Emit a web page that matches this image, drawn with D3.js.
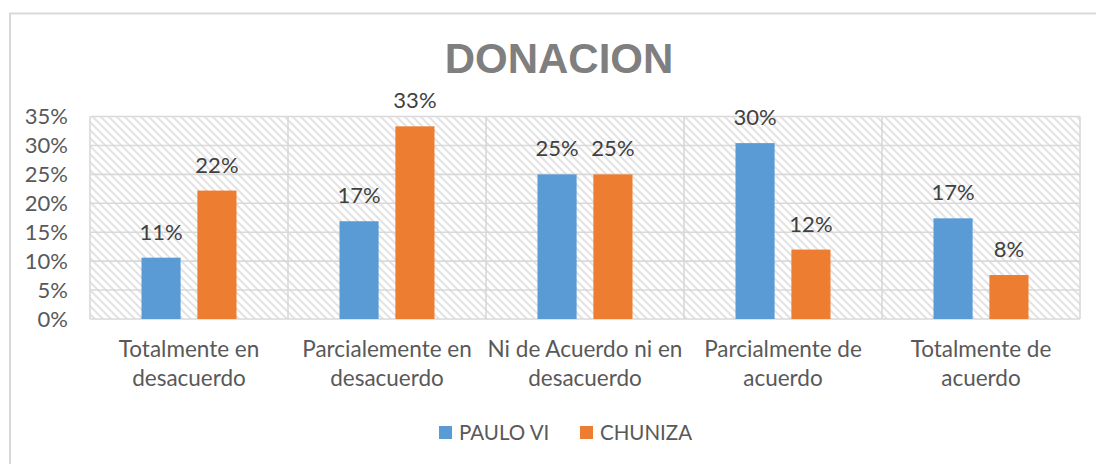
<!DOCTYPE html>
<html>
  <head>
    <script src="https://d3js.org/d3.v7.min.js"></script>
    <style>
      body { margin: 0; background: #fff; }
    </style>
  </head>
  <body>
    <script>

    // data
    var categories = [
      ["Totalmente en", "desacuerdo"],
      ["Parcialemente en", "desacuerdo"],
      ["Ni de Acuerdo ni en", "desacuerdo"],
      ["Parcialmente de", "acuerdo"],
      ["Totalmente de", "acuerdo"]
    ];
    var seriesNames = ["PAULO VI", "CHUNIZA"];
    var pauloVI = [0.106, 0.169, 0.25, 0.304, 0.174];
    var chuniza = [0.222, 0.333, 0.25, 0.12, 0.076];
    var yTicks = [0, 0.05, 0.10, 0.15, 0.20, 0.25, 0.30, 0.35];
    var colors = ["#5B9BD5", "#ED7D31"];

    var w = 1096, h = 464;
    var plotLeft = 90, plotRight = 1080, plotTop = 116.5, plotBottom = 319;
    var font = "Lato, 'Open Sans', sans-serif";
    var textColor = "#595959";
    var gridColor = "#d9d9d9";

    var svg = d3.select("body")
      .append("svg")
      .attr("width", w)
      .attr("height", h);

    // hatch pattern for the plot area
    var pat = svg.append("defs").append("pattern")
      .attr("id", "hatch")
      .attr("patternUnits", "userSpaceOnUse")
      .attr("width", 8)
      .attr("height", 8);
    pat.append("path")
      .attr("d", "M-2,-2 L10,10 M-2,6 L2,10 M6,-2 L10,2")
      .attr("stroke", "#e3e3e3")
      .attr("stroke-width", 2);

    // outer chart border (only top/left visible)
    svg.append("path")
      .attr("d", "M10," + h + " L10,13.5 L" + w + ",13.5")
      .attr("fill", "none")
      .attr("stroke", gridColor)
      .attr("stroke-width", 2);

    // title
    svg.append("text")
      .attr("x", 559)
      .attr("y", 73)
      .attr("text-anchor", "middle")
      .attr("font-family", "'Liberation Sans', Arial, sans-serif")
      .attr("font-weight", "bold")
      .attr("font-size", "42px")
      .attr("fill", "#7f7f7f")
      .text("DONACION");

    // scales
    var x = d3.scaleBand()
      .domain(d3.range(categories.length))
      .range([plotLeft, plotRight]);

    var xInner = d3.scaleBand()
      .domain(d3.range(seriesNames.length))
      .range([51.5, 146.5])
      .paddingInner(0.3);

    var y = d3.scaleLinear()
      .domain([0, 0.35])
      .range([plotBottom, plotTop]);

    // plot background
    svg.append("rect")
      .attr("x", plotLeft)
      .attr("y", plotTop)
      .attr("width", plotRight - plotLeft)
      .attr("height", plotBottom - plotTop)
      .attr("fill", "url(#hatch)");

    // horizontal gridlines
    svg.selectAll("line.hgrid")
      .data(yTicks)
      .enter()
      .append("line")
      .attr("class", "hgrid")
      .attr("x1", plotLeft)
      .attr("x2", plotRight)
      .attr("y1", function(d) { return y(d); })
      .attr("y2", function(d) { return y(d); })
      .attr("stroke", gridColor)
      .attr("stroke-width", 1.6);

    // vertical gridlines at category boundaries
    svg.selectAll("line.vgrid")
      .data(d3.range(categories.length + 1))
      .enter()
      .append("line")
      .attr("class", "vgrid")
      .attr("x1", function(d) { return plotLeft + d * x.step(); })
      .attr("x2", function(d) { return plotLeft + d * x.step(); })
      .attr("y1", plotTop)
      .attr("y2", plotBottom)
      .attr("stroke", gridColor)
      .attr("stroke-width", 1.6);

    // y axis labels
    var yAxis = d3.axisLeft(y)
      .tickValues(yTicks)
      .tickFormat(d3.format(".0%"))
      .tickSize(0)
      .tickPadding(0);
    var gy = svg.append("g")
      .attr("transform", "translate(68,0)")
      .call(yAxis);
    gy.select(".domain").remove();
    gy.selectAll("text")
      .attr("font-family", font)
      .attr("font-size", "22px")
      .attr("fill", textColor);

    // bars
    var series = [pauloVI, chuniza];
    var rows = [];
    series.forEach(function(vals, s) {
      vals.forEach(function(v, i) {
        rows.push({ s: s, i: i, v: v });
      });
    });

    svg.selectAll("rect.bar")
      .data(rows)
      .enter()
      .append("rect")
      .attr("class", "bar")
      .attr("x", function(d) { return x(d.i) + xInner(d.s); })
      .attr("y", function(d) { return y(d.v); })
      .attr("width", xInner.bandwidth())
      .attr("height", function(d) { return y(0) - y(d.v); })
      .attr("fill", function(d) { return colors[d.s]; });

    // data labels
    svg.selectAll("text.lbl")
      .data(rows)
      .enter()
      .append("text")
      .attr("class", "lbl")
      .attr("x", function(d) { return x(d.i) + xInner(d.s) + xInner.bandwidth() / 2; })
      .attr("y", function(d) { return y(d.v) - 18; })
      .attr("text-anchor", "middle")
      .attr("font-family", font)
      .attr("font-size", "22px")
      .attr("fill", "#404040")
      .text(function(d) { return d3.format(".0%")(d.v); });

    // category labels (two lines)
    var cat = svg.selectAll("text.cat")
      .data(categories)
      .enter()
      .append("text")
      .attr("class", "cat")
      .attr("text-anchor", "middle")
      .attr("font-family", font)
      .attr("font-size", "22.5px")
      .attr("fill", textColor);
    cat.each(function(d, i) {
      var t = d3.select(this);
      d.forEach(function(line, k) {
        t.append("tspan")
          .attr("x", x(i) + x.bandwidth() / 2)
          .attr("y", 357 + k * 29)
          .text(line);
      });
    });

    // legend
    var legendX = [439, 580];
    var lg = svg.selectAll("g.legend")
      .data(seriesNames)
      .enter()
      .append("g")
      .attr("class", "legend")
      .attr("transform", function(d, i) { return "translate(" + legendX[i] + ",426)"; });
    lg.append("rect")
      .attr("width", 13)
      .attr("height", 13)
      .attr("fill", function(d, i) { return colors[i]; });
    lg.append("text")
      .attr("x", 20)
      .attr("y", 13.5)
      .attr("font-family", font)
      .attr("font-size", "20.5px")
      .attr("fill", textColor)
      .text(function(d) { return d; });

    </script>
  </body>
</html>
